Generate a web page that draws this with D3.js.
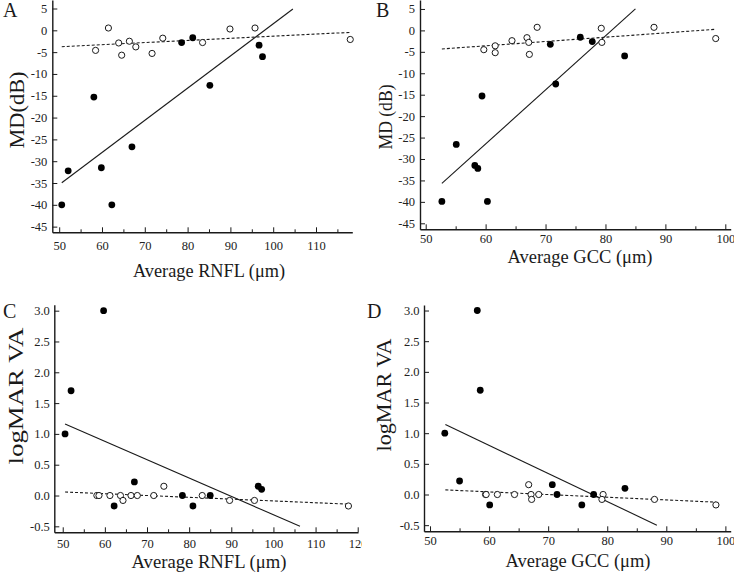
<!DOCTYPE html>
<html>
<head>
<meta charset="utf-8">
<script src="https://cdn.jsdelivr.net/npm/d3@7"></script>
<style>
  html, body { margin: 0; padding: 0; background: #fff; }
  svg { display: block; }
</style>
</head>
<body>
<svg id="chart" width="734" height="578"></svg>
<script>
// ---------------- DATA ----------------
// Panel A: MD (dB) vs Average RNFL (µm)
const rnflFilledA = [50.6, 52.1, 58.1, 59.85, 62.3, 67.0, 78.6, 81.2, 85.2, 96.7, 97.5];
const mdFilledA   = [-40, -32.2, -15.3, -31.5, -40, -26.7, -2.8, -1.7, -12.6, -3.4, -6.05];
const rnflOpenA   = [61.5, 58.5, 63.9, 64.6, 66.4, 67.9, 71.7, 74.2, 83.5, 89.9, 95.75, 118.0];
const mdOpenA     = [0.53, -4.6, -2.9, -5.7, -2.5, -3.8, -5.3, -1.8, -2.8, 0.3, 0.53, -2.1];
const fitSolidA   = [[50.6, -34.95], [104.6, 4.9]];
const fitDashedA  = [[50.6, -3.75], [118.1, -0.47]];

// Panel B: MD (dB) vs Average GCC (µm)
const gccFilledB = [52.7, 55.1, 59.4, 58.2, 58.7, 60.3, 70.8, 71.7, 75.8, 77.8, 83.2];
const mdFilledB  = [-39.9, -26.6, -15.3, -31.5, -32.2, -39.9, -3.25, -12.5, -1.6, -2.6, -5.96];
const gccOpenB   = [59.7, 61.6, 61.6, 64.4, 66.9, 67.2, 67.3, 68.6, 79.3, 79.4, 88.1, 98.4];
const mdOpenB    = [-4.5, -3.6, -5.2, -2.4, -1.7, -2.8, -5.6, 0.72, 0.49, -2.8, 0.72, -1.9];
const fitSolidB  = [[52.7, -35.7], [85.0, 5.0]];
const fitDashedB = [[52.7, -4.33], [98.4, 0.26]];

// Panel C: logMAR VA vs Average RNFL (µm)
const rnflFilledC   = [50.55, 51.98, 59.7, 62.2, 67.0, 78.4, 80.9, 85.0, 96.4, 97.2];
const logmarFilledC = [1.0, 1.7, 3.0, -0.17, 0.22, 0.0, -0.17, 0.0, 0.15, 0.10];
const rnflOpenC     = [58.1, 58.6, 61.2, 63.7, 64.3, 66.2, 67.7, 71.6, 74.0, 83.1, 89.6, 95.5, 117.8];
const logmarOpenC   = [0, 0, 0, 0, -0.08, 0, 0, 0, 0.15, 0, -0.08, -0.08, -0.17];
const fitSolidC     = [[50.55, 1.16], [106.3, -0.5]];
const fitDashedC    = [[50.55, 0.057], [117.8, -0.14]];

// Panel D: logMAR VA vs Average GCC (µm)
const gccFilledD    = [52.5, 55.0, 58.0, 58.5, 60.1, 70.7, 71.5, 75.7, 77.7, 83.0];
const logmarFilledD = [1.0, 0.22, 3.0, 1.7, -0.17, 0.16, 0.0, -0.17, 0.0, 0.10];
const gccOpenD      = [59.4, 59.5, 61.4, 64.3, 66.7, 67.1, 67.2, 68.4, 79.3, 79.1, 88.0, 98.4];
const logmarOpenD   = [0, 0, 0, 0, 0.16, 0, -0.08, 0, 0, -0.08, -0.08, -0.17];
const fitSolidD     = [[52.6, 1.14], [88.4, -0.5]];
const fitDashedD    = [[52.6, 0.075], [98.4, -0.125]];

// Tick values / labels
const mdTicks      = [-45, -40, -35, -30, -25, -20, -15, -10, -5, 0, 5];
const logmarTicks  = [-0.5, 0.0, 0.5, 1.0, 1.5, 2.0, 2.5, 3.0];
const rnflMajorA   = [50, 60, 70, 80, 90, 100, 110];
const rnflMinorA   = [55, 65, 75, 85, 95, 105, 115];
const rnflMajorC   = [50, 60, 70, 80, 90, 100, 110, 120];
const rnflMinorC   = [55, 65, 75, 85, 95, 105, 115];
const gccMajor     = [50, 60, 70, 80, 90, 100];
const gccMinor     = [55, 65, 75, 85, 95];

const panelLetters = ["A", "B", "C", "D"];
const xTitles = ["Average RNFL (\u03bcm)", "Average GCC (\u03bcm)", "Average RNFL (\u03bcm)", "Average GCC (\u03bcm)"];
const yTitles = ["MD(dB)", "MD (dB)", "logMAR VA", "logMAR VA"];

// ---------------- LAYOUT ----------------
const FONT = "'Liberation Serif', 'Times New Roman', serif";
const INK = "#1a1a1a";

const panels = [
  { letter: panelLetters[0], letterPos: [3, 17],
    xDom: [48.39, 118.48], xRange: [52.3, 352.3], yDom: [-46.3, 6.95], yRange: [232.3, 0],
    xMajor: rnflMajorA, xMinor: rnflMinorA, yTicks: mdTicks, yFmt: d => String(d),
    xPad: 9, yPad: 5,
    filled: [rnflFilledA, mdFilledA], open: [rnflOpenA, mdOpenA], solid: fitSolidA, dashed: fitDashedA,
    xTitle: xTitles[0], xTitlePos: [209, 277], xTitleLen: 152,
    yTitle: yTitles[0], yTitlePos: [24, 110], yTitleLen: 77, yTitleSize: 21, clip: null },
  { letter: panelLetters[1], letterPos: [376, 17],
    xDom: [49.05, 100.9], xRange: [420, 730.7], yDom: [-46.4, 7.09], yRange: [229.3, 0],
    xMajor: gccMajor, xMinor: gccMinor, yTicks: mdTicks, yFmt: d => String(d),
    xPad: 5, yPad: 5,
    filled: [gccFilledB, mdFilledB], open: [gccOpenB, mdOpenB], solid: fitSolidB, dashed: fitDashedB,
    xTitle: xTitles[1], xTitlePos: [580, 263], xTitleLen: 145,
    yTitle: yTitles[1], yTitlePos: [392, 117], yTitleLen: 65, yTitleSize: 18, clip: null },
  { letter: panelLetters[2], letterPos: [3, 318],
    xDom: [48.0, 120.07], xRange: [54.3, 358], yDom: [-0.597, 3.097], yRange: [532.3, 304.7],
    xMajor: rnflMajorC, xMinor: rnflMinorC, yTicks: logmarTicks, yFmt: d => d.toFixed(1),
    xPad: 6.5, yPad: 4.5,
    filled: [rnflFilledC, logmarFilledC], open: [rnflOpenC, logmarOpenC], solid: fitSolidC, dashed: fitDashedC,
    xTitle: xTitles[2], xTitlePos: [209, 568], xTitleLen: 155,
    yTitle: yTitles[2], yTitlePos: [23, 396], yTitleLen: 137, yTitleSize: 22, clip: 362 },
  { letter: panelLetters[3], letterPos: [367, 318],
    xDom: [48.98, 100.9], xRange: [424, 730.7], yDom: [-0.6, 3.09], yRange: [531.3, 305],
    xMajor: gccMajor, xMinor: gccMinor, yTicks: logmarTicks, yFmt: d => d.toFixed(1),
    xPad: 5, yPad: 4.5,
    filled: [gccFilledD, logmarFilledD], open: [gccOpenD, logmarOpenD], solid: fitSolidD, dashed: fitDashedD,
    xTitle: xTitles[3], xTitlePos: [578, 567], xTitleLen: 145,
    yTitle: yTitles[3], yTitlePos: [391, 395], yTitleLen: 113, yTitleSize: 21, clip: null }
];

// ---------------- DRAW ----------------
const svg = d3.select("#chart");
svg.append("rect").attr("width", 734).attr("height", 578).attr("fill", "#fff");
const defs = svg.append("defs");

panels.forEach((p, i) => {
  const g = svg.append("g");
  if (p.clip !== null) {
    defs.append("clipPath").attr("id", "clip" + i)
      .append("rect").attr("x", 0).attr("y", 280).attr("width", p.clip).attr("height", 298);
    g.attr("clip-path", `url(#clip${i})`);
  }
  const x = d3.scaleLinear().domain(p.xDom).range(p.xRange);
  const y = d3.scaleLinear().domain(p.yDom).range(p.yRange);
  const x0 = p.xRange[0], yBase = p.yRange[0];

  // regression lines
  const line = d3.line().x(d => x(d[0])).y(d => y(d[1]));
  g.append("path").datum(p.solid).attr("d", line)
    .attr("fill", "none").attr("stroke", INK).attr("stroke-width", 1.1);
  g.append("path").datum(p.dashed).attr("d", line)
    .attr("fill", "none").attr("stroke", INK).attr("stroke-width", 1.1)
    .attr("stroke-dasharray", "3,2");

  // x axis (major)
  const xAxis = g.append("g").attr("transform", `translate(0,${yBase})`)
    .call(d3.axisBottom(x).tickValues(p.xMajor).tickSizeInner(-5).tickSizeOuter(0)
      .tickPadding(p.xPad).tickFormat(d => String(d)));
  // x axis (minor)
  const xMinor = g.append("g").attr("transform", `translate(0,${yBase})`)
    .call(d3.axisBottom(x).tickValues(p.xMinor).tickSizeInner(-3).tickSizeOuter(0).tickFormat(""));
  xMinor.select(".domain").remove();

  // y axis
  const yAxis = g.append("g").attr("transform", `translate(${x0},0)`)
    .call(d3.axisLeft(y).tickValues(p.yTicks).tickSizeInner(-5).tickSizeOuter(0)
      .tickPadding(p.yPad).tickFormat(p.yFmt));

  [xAxis, xMinor, yAxis].forEach(a => {
    a.attr("font-family", FONT).attr("font-size", 12.5);
    a.selectAll("path, line").attr("stroke", INK);
    a.selectAll(".domain").attr("stroke-width", 1.4);
    a.selectAll("text").attr("fill", "#222");
  });

  // open circles
  g.append("g").selectAll("circle")
    .data(d3.zip(p.open[0], p.open[1])).join("circle")
    .attr("cx", d => x(d[0])).attr("cy", d => y(d[1])).attr("r", 3.1)
    .attr("fill", "#fff").attr("stroke", INK).attr("stroke-width", 1);
  // filled circles
  g.append("g").selectAll("circle")
    .data(d3.zip(p.filled[0], p.filled[1])).join("circle")
    .attr("cx", d => x(d[0])).attr("cy", d => y(d[1])).attr("r", 3.4)
    .attr("fill", "#000");

  // axis titles
  g.append("text").attr("x", p.xTitlePos[0]).attr("y", p.xTitlePos[1])
    .attr("text-anchor", "middle").attr("font-family", FONT).attr("font-size", 18)
    .attr("fill", INK).attr("textLength", p.xTitleLen).attr("lengthAdjust", "spacingAndGlyphs")
    .text(p.xTitle);
  g.append("text")
    .attr("transform", `translate(${p.yTitlePos[0]},${p.yTitlePos[1]}) rotate(-90)`)
    .attr("text-anchor", "middle").attr("font-family", FONT).attr("font-size", p.yTitleSize)
    .attr("fill", INK).attr("textLength", p.yTitleLen).attr("lengthAdjust", "spacingAndGlyphs")
    .text(p.yTitle);

  // panel letter
  svg.append("text").attr("x", p.letterPos[0]).attr("y", p.letterPos[1])
    .attr("font-family", FONT).attr("font-size", 20).attr("fill", INK)
    .text(p.letter);
});
</script>
</body>
</html>
